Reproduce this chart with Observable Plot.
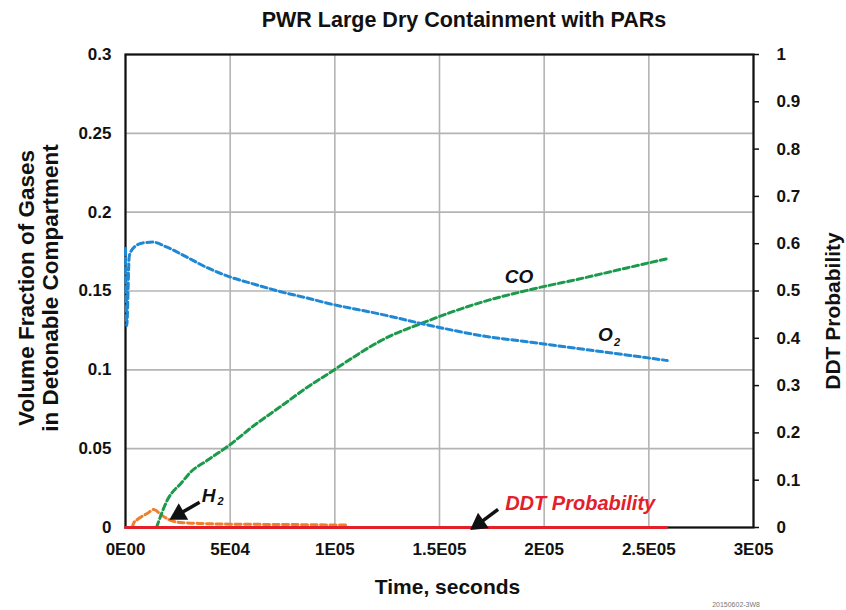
<!DOCTYPE html>
<html>
<head>
<meta charset="utf-8">
<script src="https://cdn.jsdelivr.net/npm/d3@7"></script>
<script src="https://cdn.jsdelivr.net/npm/@observablehq/plot@0.6"></script>
<style>
  body { margin: 0; background: #fff; font-family: "Liberation Sans", Arial, sans-serif; }
  #title { height: 40px; box-sizing: border-box; padding-top: 8px; padding-left: 82px; width: 846px;
           text-align: center; font-weight: bold; font-size: 21.5px; line-height: 25px; color: #111; }
  #caption { width: 846px; height: 10px; font-size: 7px; line-height: 10px; color: #777; text-align: right; box-sizing: border-box; padding-right: 86px; }
</style>
</head>
<body>
<div id="title">PWR Large Dry Containment with PARs</div>
<div id="chart"></div>
<div id="caption">20150602-3W8</div>
<script>
// ---- data ----
const o2Time = [0, 600, 1800, 3000, 4300, 8300, 13100, 19500, 29100, 38700, 49800, 61000, 73700, 86500, 98000, 121500, 144300, 169900, 193800, 220000, 240000, 258800];
const o2Val  = [0.177, 0.128, 0.172, 0.176, 0.178, 0.1805, 0.181, 0.178, 0.1716, 0.165, 0.159, 0.1545, 0.1497, 0.1456, 0.1418, 0.1354, 0.1285, 0.1217, 0.1175, 0.1128, 0.1093, 0.1059];

const coTime = [14800, 19950, 27100, 31000, 39100, 49400, 61400, 74200, 86900, 98000, 107700, 122000, 144400, 169900, 193800, 220000, 240000, 258800];
const coVal  = [0, 0.0173, 0.0289, 0.035, 0.0426, 0.052, 0.0647, 0.0768, 0.089, 0.0985, 0.107, 0.1185, 0.131, 0.1428, 0.151, 0.1586, 0.1648, 0.1705];

const h2Time = [3200, 4000, 5600, 10400, 13500, 16700, 20700, 26300, 37500, 50200, 77400, 106000];
const h2Val  = [0, 0.003, 0.005, 0.0089, 0.0114, 0.0084, 0.005, 0.0032, 0.0025, 0.0021, 0.0019, 0.0015];

const ddtTime = [0, 258400];
const ddtProb = [0, 0];

const xTicks = [0, 50000, 100000, 150000, 200000, 250000, 300000];
const xTickLabels = ["0E00", "5E04", "1E05", "1.5E05", "2E05", "2.5E05", "3E05"];
const yTicks = [0, 0.05, 0.1, 0.15, 0.2, 0.25, 0.3];
const yTickLabels = ["0", "0.05", "0.1", "0.15", "0.2", "0.25", "0.3"];
const rightTicks = [0, 0.1, 0.2, 0.3, 0.4, 0.5, 0.6, 0.7, 0.8, 0.9, 1];
const rightTickLabels = ["0", "0.1", "0.2", "0.3", "0.4", "0.5", "0.6", "0.7", "0.8", "0.9", "1"];
const rightMax = 1, leftMax = 0.3;

// annotation labels (data coordinates)
const labels = [
  {t: 188000, v: 0.1587, text: "CO", size: 19, color: "#111"},
  {t: 229200, v: 0.1219, text: "O", size: 19, color: "#111"},
  {t: 234800, v: 0.1176, text: "2", size: 11, color: "#111"},
  {t: 39700, v: 0.0198, text: "H", size: 19, color: "#111"},
  {t: 45400, v: 0.0163, text: "2", size: 11, color: "#111"},
  {t: 217200, v: 0.0152, text: "DDT Probability", size: 20, color: "#e3202a"}
];
// arrow shafts: from label to head centre; heads: centre + rotation
const arrowShafts = [
  {t1: 35400, v1: 0.016, t2: 25450, v2: 0.0084},
  {t1: 178000, v1: 0.0115, t2: 168850, v2: 0.0024}
];
const arrowHeads = [
  {t: 25450, v: 0.0084, angle: 240},
  {t: 168850, v: 0.0024, angle: 235}
];

const toTable = (ts, vs, name) => ts.map((t, i) => ({t, v: vs[i], name}));
const o2 = toTable(o2Time, o2Val, "O2");
const co = toTable(coTime, coVal, "CO");
const h2 = toTable(h2Time, h2Val, "H2");
const ddt = toTable(ddtTime, ddtProb.map(p => p * leftMax / rightMax), "DDT");

const xLab = new Map(xTicks.map((d, i) => [d, xTickLabels[i]]));
const yLab = new Map(yTicks.map((d, i) => [d, yTickLabels[i]]));
const rScaled = rightTicks.map(p => p * leftMax / rightMax);
const rLab = new Map(rScaled.map((d, i) => [d, rightTickLabels[i]]));

const dash = "6,3.5";
const chart = Plot.plot({
  width: 846,
  height: 560,
  marginLeft: 125,
  marginRight: 93,
  marginTop: 14,
  marginBottom: 73,
  x: {domain: [0, 300000]},
  y: {domain: [0, 0.3]},
  style: {fontFamily: "'Liberation Sans', Arial, sans-serif", fontWeight: "bold", background: "#fff", color: "#111", overflow: "visible"},
  marks: [
    Plot.gridX(xTicks, {stroke: "#b4b4b4", strokeOpacity: 1, strokeWidth: 1.6}),
    Plot.gridY(yTicks, {stroke: "#b4b4b4", strokeOpacity: 1, strokeWidth: 1.6}),
    Plot.frame({stroke: "#111", strokeWidth: 2.2}),
    Plot.axisX(xTicks, {tickSize: 0, tickPadding: 15, fontSize: 17, tickFormat: d => xLab.get(d), label: null}),
    Plot.axisY(yTicks, {anchor: "left", tickSize: 0, tickPadding: 14, fontSize: 17, tickFormat: d => yLab.get(d), label: null}),
    Plot.axisY(rScaled, {anchor: "right", tickSize: 5, tickPadding: 18, fontSize: 17, strokeWidth: 1.5, tickFormat: d => rLab.get(d), label: null}),
    Plot.line(h2, {x: "t", y: "v", stroke: "#ef7f2c", strokeWidth: 3, strokeDasharray: dash, curve: "monotone-x"}),
    Plot.line(co, {x: "t", y: "v", stroke: "#1a9a4a", strokeWidth: 3, strokeDasharray: dash, curve: "monotone-x"}),
    Plot.line(o2, {x: "t", y: "v", stroke: "#1f88d4", strokeWidth: 3, strokeDasharray: dash, curve: "monotone-x"}),
    Plot.line(ddt, {x: "t", y: "v", stroke: "#e3202a", strokeWidth: 3}),
    Plot.link(arrowShafts, {x1: "t1", y1: "v1", x2: "t2", y2: "v2", stroke: "#111", strokeWidth: 3.5}),
    Plot.dot(arrowHeads, {x: "t", y: "v", symbol: "triangle", r: 7, rotate: "angle", fill: "#111", stroke: "none"}),
    Plot.text(labels, {x: "t", y: "v", text: "text", fontSize: "size", fill: "color", fontStyle: "italic", fontWeight: "bold"}),
    Plot.text(["Time, seconds"], {frameAnchor: "bottom", dx: 8, dy: 66, fontSize: 21, fontWeight: "bold"}),
    Plot.text(["Volume Fraction of Gases\nin Detonable Compartment"], {frameAnchor: "left", textAnchor: "middle", rotate: -90, dx: -87, dy: -3, fontSize: 22.5, lineHeight: 1.05, fontWeight: "bold"}),
    Plot.text(["DDT Probability"], {frameAnchor: "right", textAnchor: "middle", rotate: -90, dx: 80, dy: 20, fontSize: 21, fontWeight: "bold"})
  ]
});
document.getElementById("chart").appendChild(chart);
</script>
</body>
</html>
